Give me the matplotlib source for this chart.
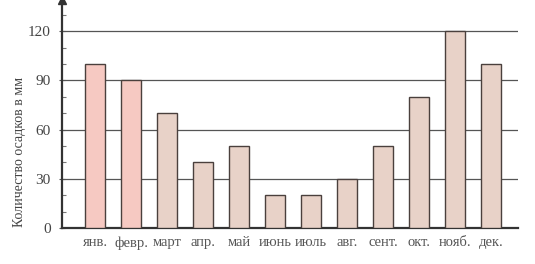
import matplotlib.pyplot as plt
from matplotlib.ticker import MultipleLocator

months = ["янв.", "февр.", "март", "апр.", "май", "июнь", "июль",
          "авг.", "сент.", "окт.", "нояб.", "дек."]
precip = [100, 90, 70, 40, 50, 20, 20, 30, 50, 80, 120, 100]
yticks = [0, 30, 60, 90, 120]

plt.rcParams['font.family'] = ['Liberation Serif', 'DejaVu Serif']

fig = plt.figure(figsize=(5.35, 2.64), dpi=100)
ax = fig.add_axes([62/535, 36/264, 456/535, 228/264])

x = list(range(len(months)))
colors = ['#f6c9c2' if i < 2 else '#e8d2c8' for i in x]
ax.bar(x, precip, width=0.56, color=colors, edgecolor='#4a403d',
       linewidth=1.0, zorder=3)

for v in yticks[1:]:
    ax.axhline(v, color='#555555', linewidth=0.9, zorder=1)

ax.set_xlim(-0.917, 11.75)
ax.set_ylim(0, 139)
ax.set_yticks(yticks)
ax.yaxis.set_minor_locator(MultipleLocator(10))
ax.set_xticks(x)
ax.set_xticklabels(months, fontsize=10.5, color='#555555')
ax.set_yticklabels([str(v) for v in yticks], fontsize=11, color='#444444')
ax.tick_params(axis='x', length=0, pad=6)
ax.tick_params(axis='y', which='major', length=4, width=0.8, pad=6,
               direction='inout', color='#555555')
ax.tick_params(axis='y', which='minor', length=3, width=0.8,
               direction='in', color='#777777')

for s in ['top', 'right']:
    ax.spines[s].set_visible(False)
ax.spines['left'].set_linewidth(1.6)
ax.spines['left'].set_color('#333333')
ax.spines['bottom'].set_linewidth(1.6)
ax.spines['bottom'].set_color('#333333')
ax.plot([0], [1], marker='^', markersize=6, color='#333333',
        transform=ax.transAxes, clip_on=False)

ax.set_ylabel("Количество осадков в мм", fontsize=10, color='#444444')
ax.yaxis.set_label_coords(-36/456, 0.335)

fig.savefig("out.png", dpi=100)
